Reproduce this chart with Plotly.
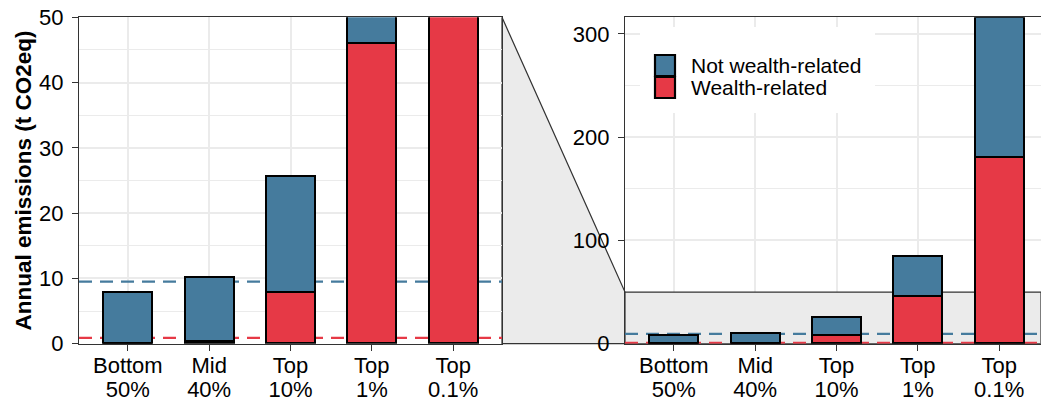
import plotly.graph_objects as go

# ---------------- data ----------------
categories = ["Bottom 50%", "Mid 40%", "Top 10%", "Top 1%", "Top 0.1%"]
tick_line1 = ["Bottom", "Mid", "Top", "Top", "Top"]
tick_line2 = ["50%", "40%", "10%", "1%", "0.1%"]
wealth_related = [0.1, 0.35, 7.9, 46.0, 180.5]
not_wealth_related = [7.7, 9.75, 17.8, 39.0, 135.5]
mean_not_wealth = 9.5
mean_wealth = 0.9
left_ylim = [0, 50]
right_ylim = [0, 316]
left_yticks = [0, 10, 20, 30, 40, 50]
right_yticks = [0, 100, 200, 300]
zoom_limit = 50
legend_labels = ["Not wealth-related", "Wealth-related"]

# ---------------- style ----------------
BLUE = "#457B9D"
RED = "#E63946"
GRID = "#EBEBEB"
FRAME = "#333333"
ZOOMFILL = "#EBEBEB"
FONT = "Liberation Sans, Arial, sans-serif"
W, H = 1041, 405

# panel pixel geometry
L_X0, L_X1 = 79, 502
R_X0 = 625
P_TOP, P_BOT = 17.3, 343.7
unit_px = (L_X1 - L_X0) / 5.2

def pxx(v):
    return v / W

def pxy(v):
    return (H - v) / H

left_dom = [pxx(L_X0), pxx(L_X1)]
right_dom = [pxx(R_X0), 1.0]
y_dom = [pxy(P_BOT), pxy(P_TOP)]
left_xrange = [-0.6, 4.6]
right_xrange = [-0.6, -0.6 + (W - R_X0) / unit_px]

xpos = list(range(len(categories)))

fig = go.Figure()
for xa, ya in [("x", "y"), ("x2", "y2")]:
    fig.add_trace(go.Bar(
        x=xpos, y=wealth_related, name=legend_labels[1], width=0.6,
        marker=dict(color=RED, line=dict(color="black", width=2.2)),
        xaxis=xa, yaxis=ya, showlegend=False,
        customdata=categories, hovertemplate="%{customdata}: %{y}<extra>Wealth-related</extra>"))
    fig.add_trace(go.Bar(
        x=xpos, y=not_wealth_related, name=legend_labels[0], width=0.6,
        marker=dict(color=BLUE, line=dict(color="black", width=2.2)),
        xaxis=xa, yaxis=ya, showlegend=False,
        customdata=categories, hovertemplate="%{customdata}: %{y}<extra>Not wealth-related</extra>"))

tickfont = dict(size=22, color="black", family=FONT)
axis_common = dict(
    showline=True, linecolor=FRAME, linewidth=1.2, mirror=True,
    ticks="outside", ticklen=6, tickcolor=FRAME, tickwidth=1.2,
    zeroline=False, showgrid=True, gridcolor=GRID, gridwidth=1.6,
    tickfont=tickfont, automargin=False,
)
# secondary (second-line) label axes: invisible except labels
label_axis = dict(
    showline=False, showgrid=False, zeroline=False, ticks="outside", ticklen=6,
    tickcolor="rgba(0,0,0,0)", tickfont=tickfont, ticklabelstandoff=20, automargin=False,
)

fig.update_layout(
    width=W, height=H, autosize=False,
    margin=dict(l=0, r=0, t=0, b=0, pad=0, autoexpand=False),
    paper_bgcolor="white", plot_bgcolor="white",
    barmode="stack", bargap=0, showlegend=False,
    font=dict(family=FONT, color="black"),
    xaxis=dict(domain=left_dom, range=left_xrange, tickvals=xpos, ticktext=tick_line1,
               anchor="y", ticklabelstandoff=-4, **axis_common),
    yaxis=dict(domain=y_dom, range=left_ylim, tickvals=left_yticks, anchor="x",
               ticklabelstandoff=4,
               minor=dict(dtick=5, tick0=0, showgrid=True, gridcolor=GRID, gridwidth=0.9),
               **axis_common),
    xaxis2=dict(domain=right_dom, range=right_xrange, tickvals=xpos, ticktext=tick_line1,
                anchor="y2", ticklabelstandoff=-4, **axis_common),
    yaxis2=dict(domain=y_dom, range=right_ylim, tickvals=right_yticks, anchor="x2",
                ticklabelstandoff=4,
                minor=dict(dtick=50, tick0=0, showgrid=True, gridcolor=GRID, gridwidth=0.9),
                **axis_common),
    xaxis3=dict(domain=left_dom, range=left_xrange, tickvals=xpos, ticktext=tick_line2,
                anchor="y", overlaying="x", **label_axis),
    xaxis4=dict(domain=right_dom, range=right_xrange, tickvals=xpos, ticktext=tick_line2,
                anchor="y2", overlaying="x2", **label_axis),
)
# dummy traces so the label axes are drawn
fig.add_trace(go.Scatter(x=xpos, y=[None] * len(xpos), xaxis="x3", yaxis="y",
                         showlegend=False, hoverinfo="skip"))
fig.add_trace(go.Scatter(x=xpos, y=[None] * len(xpos), xaxis="x4", yaxis="y2",
                         showlegend=False, hoverinfo="skip"))

shapes = []
# zoomed region inside right panel
shapes.append(dict(type="rect", xref="x2", yref="y2", x0=right_xrange[0], x1=right_xrange[1],
                   y0=0, y1=zoom_limit,
                   fillcolor=ZOOMFILL, line=dict(color=FRAME, width=1.2), layer="between"))
# mean lines
for xr, yr, rng in [("x", "y", left_xrange), ("x2", "y2", right_xrange)]:
    for val, col in [(mean_not_wealth, BLUE), (mean_wealth, RED)]:
        shapes.append(dict(type="line", xref=xr, yref=yr, x0=rng[0], x1=rng[1], y0=val, y1=val,
                           line=dict(color=col, width=2.2, dash="13px,8px"), layer="between"))
# connector polygon between panels
y50 = y_dom[0] + (zoom_limit - right_ylim[0]) / (right_ylim[1] - right_ylim[0]) * (y_dom[1] - y_dom[0])
path = (f"M {left_dom[1]},{y_dom[1]} L {right_dom[0]},{y50} L {right_dom[0]},{y_dom[0]} "
        f"L {left_dom[1]},{y_dom[0]} Z")
shapes.append(dict(type="path", xref="paper", yref="paper", path=path,
                   fillcolor=ZOOMFILL, line=dict(color=FRAME, width=1.2), layer="below"))

# manual legend (inside right panel), pixel -> right-panel data coords
def dx(p):
    return right_xrange[0] + (p - R_X0) / unit_px

def dy(p):
    return right_ylim[0] + (P_BOT - p) / (P_BOT - P_TOP) * (right_ylim[1] - right_ylim[0])

shapes.append(dict(type="rect", xref="x2", yref="y2",
                   x0=dx(640), x1=dx(875), y0=dy(113), y1=dy(27),
                   fillcolor="white", line=dict(width=0), layer="between"))
key_rows = [(55, 76, BLUE), (77, 98, RED)]
for (t, b, col) in key_rows:
    shapes.append(dict(type="rect", xref="x2", yref="y2",
                       x0=dx(655), x1=dx(675), y0=dy(b), y1=dy(t),
                       fillcolor=col, line=dict(color="black", width=2.2), layer="above"))
fig.update_layout(shapes=shapes)

annotations = []
for lbl, (t, b, col) in zip(legend_labels, key_rows):
    annotations.append(dict(xref="x2", yref="y2", x=dx(689), y=dy((t + b) / 2),
                            text=lbl, showarrow=False, xanchor="left", yanchor="middle",
                            font=dict(size=21, color="black", family=FONT)))
annotations.append(dict(xref="paper", yref="paper", x=pxx(23), y=(y_dom[0] + y_dom[1]) / 2,
                        text="<b>Annual emissions (t CO2eq)</b>", textangle=-90,
                        showarrow=False, xanchor="center", yanchor="middle",
                        font=dict(size=22.5, color="black", family=FONT)))
fig.update_layout(annotations=annotations)

fig.write_html(
    "out.html",
    config={"displayModeBar": False},
    post_script="document.body.style.margin='0';document.documentElement.style.overflow='hidden';",
)
